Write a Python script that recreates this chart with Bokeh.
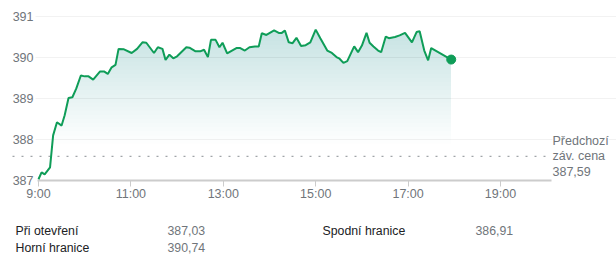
import numpy as np
from bokeh.plotting import figure
from bokeh.models import Range1d, FixedTicker, Label, LabelSet, ColumnDataSource
from bokeh.layouts import column
from bokeh.core.properties import value
from bokeh.embed import file_html
from bokeh.resources import INLINE

# ---------------- data ----------------
times = ["09:00", "09:04", "09:08", "09:15", "09:19", "09:24", "09:30", "09:34", "09:39", "09:44",
         "09:49", "09:55", "10:00", "10:05", "10:11", "10:20", "10:25", "10:30", "10:35", "10:40",
         "10:44", "10:51", "11:01", "11:08", "11:15", "11:20", "11:30", "11:35", "11:41", "11:45",
         "11:50", "11:55", "12:00", "12:12", "12:16", "12:24", "12:30", "12:35", "12:40", "12:44",
         "12:50", "12:55", "12:59", "13:05", "13:17", "13:22", "13:28", "13:34", "13:41", "13:46",
         "13:50", "13:56", "14:06", "14:12", "14:16", "14:20", "14:25", "14:30", "14:35", "14:41",
         "14:47", "14:53", "15:00", "15:06", "15:15", "15:21", "15:27", "15:31", "15:36", "15:41",
         "15:50", "15:55", "16:00", "16:06", "16:10", "16:15", "16:21", "16:25", "16:31", "16:35",
         "16:43", "16:49", "16:56", "17:05", "17:11", "17:15", "17:21", "17:26", "17:30", "17:56"]
prices = [387.03, 387.20, 387.15, 387.32, 388.10, 388.42, 388.34, 388.59, 389.01, 389.03,
          389.24, 389.56, 389.54, 389.54, 389.46, 389.66, 389.66, 389.60, 389.76, 389.82,
          390.21, 390.20, 390.11, 390.21, 390.37, 390.36, 390.11, 390.25, 390.21, 389.94,
          390.07, 389.98, 390.03, 390.25, 390.24, 390.15, 390.15, 390.19, 390.01, 390.43,
          390.43, 390.25, 390.36, 390.10, 390.23, 390.23, 390.17, 390.25, 390.27, 390.27,
          390.59, 390.55, 390.66, 390.60, 390.60, 390.66, 390.37, 390.35, 390.48, 390.28,
          390.30, 390.37, 390.68, 390.47, 390.17, 390.11, 390.01, 389.97, 389.87, 389.91,
          390.27, 390.13, 390.29, 390.60, 390.36, 390.27, 390.17, 390.13, 390.51, 390.47,
          390.50, 390.54, 390.60, 390.37, 390.62, 390.64, 390.17, 389.93, 390.23, 389.95]

prev_close = 387.59
prev_close_label = "Předchozí\nzáv. cena\n387,59"

y_ticks = [387, 388, 389, 390, 391]
y_tick_labels = ["387", "388", "389", "390", "391"]
x_ticks = [9, 11, 13, 15, 17, 19]
x_tick_labels = ["9:00", "11:00", "13:00", "15:00", "17:00", "19:00"]

stat_labels = ["Při otevření", "Horní hranice", "Spodní hranice"]
stat_values = [387.03, 390.74, 386.91]

# ---------------- style / geometry ----------------
FONT = "Liberation Sans"
GREEN = "#0f9d58"
GREY_TXT = "#70757a"
PX_PER_H = 46.2
PX_PER_UNIT = 41.0
W = 616


def to_hours(t):
    h, m = t.split(":")
    return int(h) + int(m) / 60.0


x_start = 9 - 38 / PX_PER_H
x_end = x_start + W / PX_PER_H


def px(xp):
    return x_start + xp / PX_PER_H


y_start = 387 - 6 / PX_PER_UNIT
y_end = 387 + 175 / PX_PER_UNIT

xs = np.array([to_hours(t) for t in times])
ys = np.array(prices)

p = figure(width=W, height=205, x_range=Range1d(x_start, x_end), y_range=Range1d(y_start, y_end),
           output_backend="svg", toolbar_location=None, y_axis_location=None,
           min_border_left=0, min_border_right=0, min_border_top=5, min_border_bottom=19)
p.outline_line_color = None
p.background_fill_color = "white"
p.border_fill_color = "white"
p.xgrid.visible = False
p.ygrid.visible = False

# gridlines
for v in y_ticks[1:]:
    p.segment(x0=px(35), y0=v, x1=x_end, y1=v, line_color="#f2f2f2", line_width=1)

# gradient fill under the line (stacked translucent layers)
for lvl in np.arange(387.9, 390.85, 0.1):
    p.varea(x=xs, y1=np.full_like(ys, lvl), y2=np.maximum(ys, lvl),
            fill_color=GREEN, fill_alpha=0.009)

# previous close dotted line
p.segment(x0=px(12), y0=prev_close, x1=px(546), y1=prev_close,
          line_color="#a0a4a8", line_width=1.2, line_dash="2 7")

# axis baseline
p.segment(x0=px(37), y0=387, x1=px(551), y1=387, line_color="#cccccc", line_width=2)

# price line
p.line(xs, ys, line_color=GREEN, line_width=2)
p.scatter(x=[xs[-1]], y=[ys[-1]], size=9, fill_color=GREEN, line_color=GREEN)

# y tick labels
ysrc = ColumnDataSource(dict(x=[x_start] * len(y_ticks), y=y_ticks, t=y_tick_labels))
p.add_layout(LabelSet(x="x", y="y", text="t", source=ysrc, x_offset=33,
                      text_align="right", text_baseline="middle", text_font=value(FONT),
                      text_font_size="12.5px", text_color=GREY_TXT))

# prev close label
p.add_layout(Label(x=px(552), y=prev_close, text=prev_close_label, text_align="left",
                   text_baseline="middle", text_font=FONT, text_font_size="12.5px",
                   text_color=GREY_TXT, text_line_height=1.1,
                   background_fill_color="white", background_fill_alpha=1.0))

# x axis (ticks drawn upward from frame bottom to the baseline)
ax = p.xaxis[0]
ax.ticker = FixedTicker(ticks=x_ticks)
ax.major_label_overrides = {float(t): l for t, l in zip(x_ticks, x_tick_labels)}
ax.axis_line_color = None
ax.major_tick_in = 6
ax.major_tick_out = 0
ax.major_tick_line_color = "#cccccc"
ax.minor_tick_line_color = None
ax.major_label_standoff = 0
ax.major_label_text_font = FONT
ax.major_label_text_font_size = "12.5px"
ax.major_label_text_color = GREY_TXT

# ---------------- stats ----------------
p2 = figure(width=W, height=53, x_range=Range1d(0, W), y_range=Range1d(53, 0),
            output_backend="svg", toolbar_location=None, x_axis_location=None,
            y_axis_location=None, min_border=0)
p2.outline_line_color = None
p2.xgrid.visible = False
p2.ygrid.visible = False

lab_x = [15, 15, 322]
val_x = [167, 167, 475]
row_y = [25, 42, 25]
p2.text(x=lab_x, y=row_y, text=stat_labels, text_baseline="middle", text_align="left",
        text_font=value(FONT), text_font_size="12.3px", text_color="#202124")
p2.text(x=val_x, y=row_y, text=[f"{v:.2f}".replace(".", ",") for v in stat_values],
        text_baseline="middle", text_align="left",
        text_font=value(FONT), text_font_size="12.3px", text_color=GREY_TXT)

layout = column(p, p2, spacing=0)
open("out.html", "w").write(file_html(layout, INLINE))
